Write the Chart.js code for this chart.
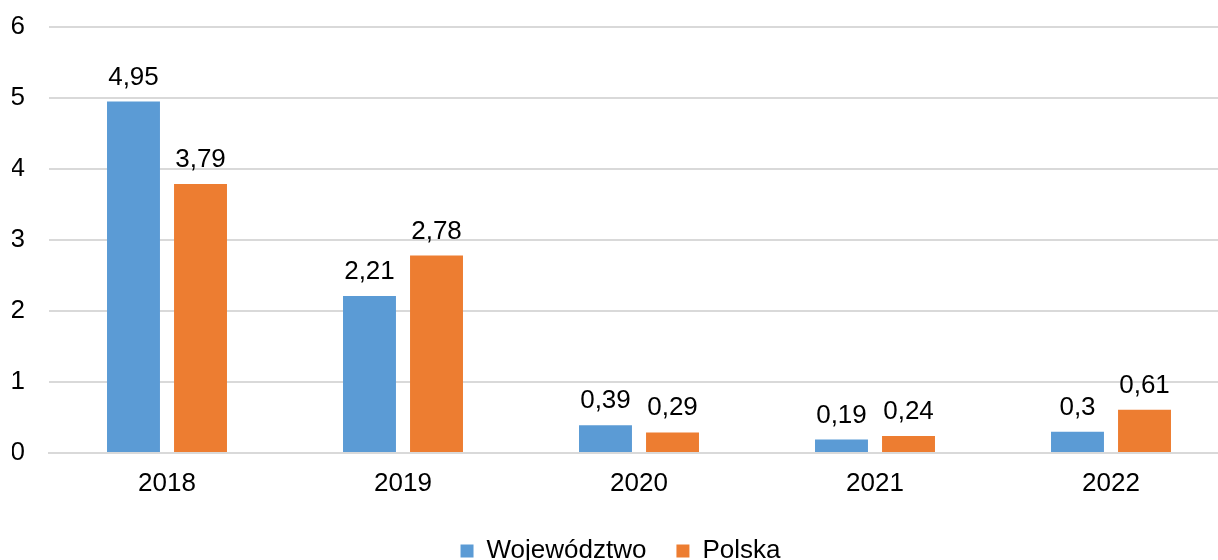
<!DOCTYPE html>
<html>
<head>
<meta charset="utf-8">
<script src="https://cdn.jsdelivr.net/npm/chart.js@4"></script>
<style>
  html, body { margin: 0; padding: 0; background: #fff; overflow: hidden; }
  #wrap { width: 1240px; height: 574px; position: relative; }
</style>
</head>
<body>
<div id="wrap"><canvas id="chart"></canvas></div>
<script>
const years = ['2018', '2019', '2020', '2021', '2022'];
const wojewodztwo = [4.95, 2.21, 0.39, 0.19, 0.3];
const polska = [3.79, 2.78, 0.29, 0.24, 0.61];
const yTicks = [0, 1, 2, 3, 4, 5, 6];

const FONT = '"Liberation Sans", Arial, sans-serif';
const SIZE = 26;

// value labels above bars, Polish decimal comma
const valueLabels = {
  id: 'valueLabels',
  afterDatasetsDraw(chart) {
    const ctx = chart.ctx;
    ctx.save();
    ctx.font = SIZE + 'px ' + FONT;
    ctx.fillStyle = '#000';
    ctx.textAlign = 'center';
    ctx.textBaseline = 'alphabetic';
    chart.data.datasets.forEach((ds, i) => {
      chart.getDatasetMeta(i).data.forEach((bar, j) => {
        const txt = String(ds.data[j]).replace('.', ',');
        ctx.fillText(txt, bar.x, bar.y - 17);
      });
    });
    ctx.restore();
  }
};

new Chart(document.getElementById('chart'), {
  type: 'bar',
  data: {
    labels: years,
    datasets: [
      { label: 'Województwo', data: wojewodztwo, backgroundColor: '#5b9bd5' },
      { label: 'Polska', data: polska, backgroundColor: '#ed7d31' }
    ]
  },
  options: {
    responsive: true,
    maintainAspectRatio: false,
    animation: false,
    categoryPercentage: 0.568,
    barPercentage: 0.79,
    layout: { padding: { left: 12, right: 11, top: 27, bottom: 0 } },
    plugins: {
      tooltip: { enabled: false },
      legend: {
        position: 'bottom',
        labels: {
          color: '#000',
          font: { family: FONT, size: SIZE },
          boxWidth: 13,
          boxHeight: 13,
          padding: 30
        }
      }
    },
    scales: {
      x: {
        grid: { display: false, drawTicks: false },
        border: { color: '#d9d9d9', width: 2 },
        afterFit(axis) { axis.height = 55; },
        ticks: { color: '#000', font: { family: FONT, size: SIZE }, padding: 15 }
      },
      y: {
        min: yTicks[0],
        max: yTicks[yTicks.length - 1],
        grid: { color: '#d9d9d9', lineWidth: 2, drawTicks: false },
        border: { display: false },
        afterFit(axis) {
          axis.width = 37;
          axis.paddingTop = 0;
          axis.paddingBottom = 0;
        },
        afterBuildTicks(axis) { axis.ticks = yTicks.map(v => ({ value: v })); },
        ticks: { color: '#000', font: { family: FONT, size: SIZE }, padding: 24 }
      }
    }
  },
  plugins: [valueLabels]
});
</script>
</body>
</html>
